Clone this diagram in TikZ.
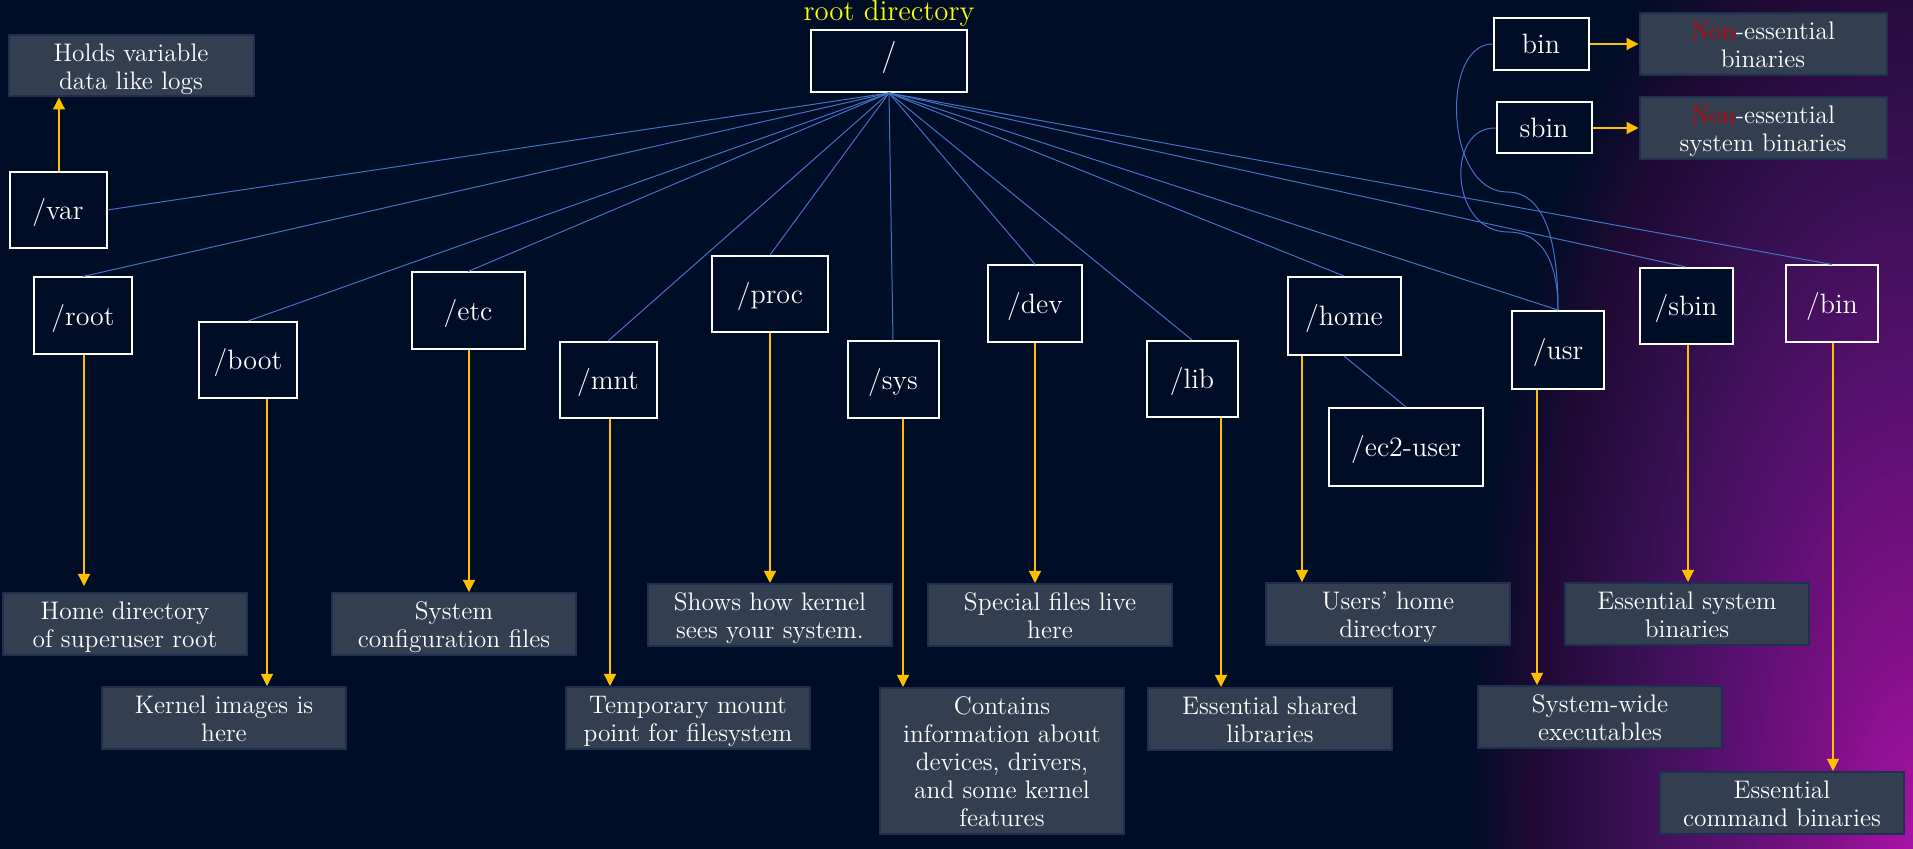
\documentclass[tikz,border=0pt]{standalone}
\usepackage{fontspec}
\usetikzlibrary{arrows.meta,calc}
\definecolor{bgc}{HTML}{000D26}
\definecolor{descfill}{HTML}{333F50}
\definecolor{descdraw}{HTML}{1F2F4F}
\definecolor{blueline}{HTML}{4472C4}
\definecolor{arrowc}{HTML}{FFC000}
\definecolor{nonred}{HTML}{C80000}
\definecolor{rootyel}{HTML}{FFFF00}
\definecolor{gA}{HTML}{A812A8}
\definecolor{gB}{HTML}{801088}
\definecolor{gC}{HTML}{5A1070}
\definecolor{gD}{HTML}{3A1055}
\definecolor{gE}{HTML}{200A35}
\newcommand{\tstr}{\rule{0pt}{1em}}
\newcommand{\bstr}{\rule[-0.23em]{0pt}{0pt}}
\tikzset{
  dirbox/.style={draw=white, line width=1pt, fill=bgc, text=white, inner sep=0pt,
    text height=1.25em, text depth=0.25em, font=\fontsize{14}{16}\selectfont},
  descbox/.style={draw=descdraw, line width=1pt, fill=descfill, text=white, inner sep=0pt,
    align=center, minimum width=122pt, minimum height=31pt, font=\fontsize{12.7}{14}\selectfont},
  treeline/.style={draw=blueline, line width=0.5pt},
  infoarrow/.style={draw=arrowc, line width=0.6pt, -{Triangle[width=6pt,length=6pt]}, arrowc}
}
\begin{document}
\begin{tikzpicture}[x=0.5pt,y=-0.5pt]
\fill[bgc] (0,0) rectangle (1913,849);
\useasboundingbox (0,0) rectangle (1913,849);
\begin{scope}
  \clip (0,0) rectangle (1913,849);
  \foreach \fa/\fb/\ca/\cb in {0.85/1.0/gE/bgc, 0.63/0.85/gD/gE, 0.42/0.63/gC/gD, 0.2/0.42/gB/gC, 0/0.2/gA/gB}{
    \foreach \k in {16,15,...,1}{
      \pgfmathsetmacro\ff{\fa+(\fb-\fa)*\k/16}
      \pgfmathtruncatemacro\pp{100*\k/16}
      \fill[\cb!\pp!\ca] (1913,849) ellipse [x radius={450*\ff}, y radius={1080*\ff}];
    }
  }
\end{scope}

% directory boxes
\node[dirbox, minimum width=78pt, minimum height=31pt, text height=0.75em, font=\fontsize{16}{18}\selectfont] (slash) at (889,61) {/};
\node[text=rootyel, inner sep=0pt, font=\fontsize{14.4}{16}\selectfont] (rootlbl) at (889,13) {root directory};
\node[dirbox, minimum width=48.5pt, minimum height=38pt] (var) at (58,210) {/var};
\node[dirbox, minimum width=49pt, minimum height=38.5pt] (root) at (83,316) {/root};
\node[dirbox, minimum width=49pt, minimum height=38pt] (boot) at (248,360) {/boot};
\node[dirbox, minimum width=56.5pt, minimum height=38.5pt] (etc) at (468,311) {/etc};
\node[dirbox, minimum width=48.5pt, minimum height=38pt] (mnt) at (608,380) {/mnt};
\node[dirbox, minimum width=58pt, minimum height=38pt] (proc) at (770,294) {/proc};
\node[dirbox, minimum width=45.5pt, minimum height=38.5pt] (sys) at (893,380) {/sys};
\node[dirbox, minimum width=47pt, minimum height=38.5pt] (dev) at (1035,304) {/dev};
\node[dirbox, minimum width=45.5pt, minimum height=38pt] (lib) at (1192,379) {/lib};
\node[dirbox, minimum width=56.5pt, minimum height=39pt] (home) at (1344,316) {/home};
\node[dirbox, minimum width=46pt, minimum height=39pt] (usr) at (1558,350) {/usr};
\node[dirbox, minimum width=46.5pt, minimum height=38pt] (sbin) at (1686,306) {/sbin};
\node[dirbox, fill=none, minimum width=46pt, minimum height=38.5pt] (bin) at (1832,304) {/bin};
\node[dirbox, minimum width=77pt, minimum height=39pt] (ec2) at (1406,447) {/ec2-user};
\node[dirbox, minimum width=47.5pt, minimum height=26pt] (ubin) at (1541,44) {bin};
\node[dirbox, minimum width=47.5pt, minimum height=25.5pt] (usbin) at (1544,128) {sbin};

% description boxes
\node[descbox, minimum width=122.5pt, minimum height=30.5pt] (holds) at (131,66) {\tstr Holds variable\\data like logs\bstr};
\node[descbox] (hd) at (125,624) {\tstr Home directory\\of superuser root\bstr};
\node[descbox] (sc) at (454,624) {\tstr System\\configuration files\bstr};
\node[descbox] (shows) at (770,615) {\tstr Shows how kernel\\sees your system.\bstr};
\node[descbox] (kern) at (224,718) {\tstr Kernel images is\\here\bstr};
\node[descbox] (temp) at (688,718) {\tstr Temporary mount\\point for filesystem\bstr};
\node[descbox, minimum height=73pt] (cont) at (1002,761) {\tstr Contains\\information about\\devices, drivers,\\and some kernel\\features\bstr};
\node[descbox] (spec) at (1050,615) {\tstr Special files live\\here\bstr};
\node[descbox] (users) at (1388,614) {\tstr Users’ home\\directory\bstr};
\node[descbox] (esb) at (1687,614) {\tstr Essential system\\binaries\bstr};
\node[descbox] (esl) at (1270,719) {\tstr Essential shared\\libraries\bstr};
\node[descbox] (swe) at (1600,717) {\tstr System-wide\\executables\bstr};
\node[descbox] (ecb) at (1782,803) {\tstr Essential\\command binaries\bstr};
\node[descbox, minimum width=123.5pt] (neb) at (1763,44) {\tstr\textcolor{nonred}{Non}-essential\\binaries\bstr};
\node[descbox, minimum width=123.5pt] (nesb) at (1763,128) {\tstr\textcolor{nonred}{Non}-essential\\system binaries\bstr};

% tree lines
\draw[treeline] (slash.south) -- (var.east);
\foreach \d in {root,boot,etc,mnt,proc,sys,dev,lib,home,usr,sbin,bin}
  \draw[treeline] (slash.south) -- (\d.north);
\draw[treeline] (home.south) -- (ec2.north);
\draw[treeline] (ubin.west) .. controls (1440,44) and (1445,192) .. (1507,192)
  .. controls (1548,192) and (1558,250) .. (usr.north);
\draw[treeline] (usbin.west) .. controls (1445,127) and (1450,232) .. (1508,232)
  .. controls (1548,232) and (1558,272) .. (usr.north);

% info arrows
\draw[infoarrow] ([xshift=0.5pt]var.north) -- ([xshift=0.5pt]var.north |- holds.south);
\draw[infoarrow, shorten >=3pt] ([xshift=0.5pt]root.south) -- ([xshift=0.5pt]root.south |- hd.north);
\draw[infoarrow] ([xshift=9.5pt]boot.south) -- ([xshift=9.5pt]boot.south |- kern.north);
\draw[infoarrow] ([xshift=0.5pt]etc.south) -- ([xshift=0.5pt]etc.south |- sc.north);
\draw[infoarrow] ([xshift=1pt]mnt.south) -- ([xshift=1pt]mnt.south |- temp.north);
\draw[infoarrow] (proc.south) -- (proc.south |- shows.north);
\draw[infoarrow] ([xshift=5pt]sys.south) -- ([xshift=5pt]sys.south |- cont.north);
\draw[infoarrow] (dev.south) -- (dev.south |- spec.north);
\draw[infoarrow] ([xshift=14.5pt]lib.south) -- ([xshift=14.5pt]lib.south |- esl.north);
\draw[infoarrow] ([xshift=-21pt]home.south) -- ([xshift=-21pt]home.south |- users.north);
\draw[infoarrow] ([xshift=-10.5pt]usr.south) -- ([xshift=-10.5pt]usr.south |- swe.north);
\draw[infoarrow] ([xshift=1pt]sbin.south) -- ([xshift=1pt]sbin.south |- esb.north);
\draw[infoarrow] ([xshift=0.5pt]bin.south) -- ([xshift=0.5pt]bin.south |- ecb.north);
\draw[infoarrow] (ubin.east) -- (neb.west);
\draw[infoarrow] (usbin.east) -- (usbin.east -| nesb.west);
\end{tikzpicture}
\end{document}
